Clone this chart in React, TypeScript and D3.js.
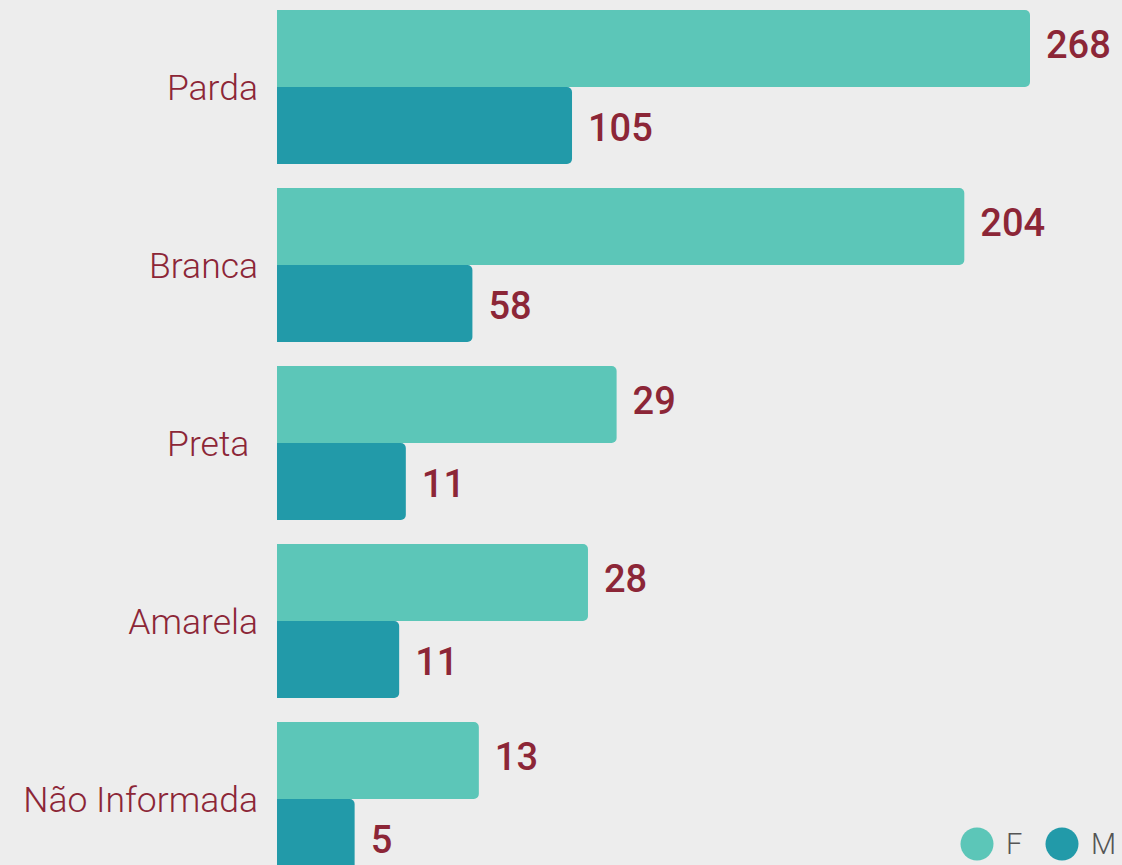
import React from "react";
import * as d3 from "d3";

const categories = ["Parda", "Branca", "Preta ", "Amarela", "Não Informada"];
const valuesF = [268, 204, 29, 28, 13];
const valuesM = [105, 58, 11, 11, 5];
// each group in the original is drawn on its own axis; axis maximum per group
const groupAxisMax = [268, 223.5, 64.3, 67.8, 48.5];
const seriesKeys = ["F", "M"];
const seriesColors = ["#5cc6b8", "#229aa9"];

const W = 1122;
const H = 865;
const X0 = 277;
const BAR_RANGE = 753;
const LABEL_COLOR = "#8c2637";

function barPath(x0: number, x1: number, y0: number, y1: number, r: number) {
  const p = d3.path();
  const rr = Math.min(r, (x1 - x0) / 2, (y1 - y0) / 2);
  p.moveTo(x0, y0);
  p.lineTo(x1 - rr, y0);
  p.arcTo(x1, y0, x1, y0 + rr, rr);
  p.lineTo(x1, y1 - rr);
  p.arcTo(x1, y1, x1 - rr, y1, rr);
  p.lineTo(x0, y1);
  p.closePath();
  return p.toString();
}

export default function App() {
  const y = d3
    .scaleBand<string>()
    .domain(categories)
    .range([10, 876])
    .paddingInner(24 / 178)
    .paddingOuter(0);
  const ySub = d3
    .scaleBand<string>()
    .domain(seriesKeys)
    .range([0, y.bandwidth()])
    .padding(0);

  return (
    <svg
      width={W}
      height={H}
      style={{ position: "absolute", left: 0, top: 0, display: "block" }}
    >
      <rect x={0} y={0} width={W} height={H} fill="#ededed" />
      {categories.map((cat, i) => {
        const x = d3
          .scaleLinear()
          .domain([0, groupAxisMax[i]])
          .range([X0, X0 + BAR_RANGE]);
        const gy = y(cat)!;
        const vals = [valuesF[i], valuesM[i]];
        return (
          <g key={cat}>
            <text
              x={258}
              y={gy + y.bandwidth() / 2}
              dy="0.36em"
              textAnchor="end"
              fontFamily="Roboto, 'Noto Sans', sans-serif"
              fontWeight={300}
              fontSize={35.5}
              fill={LABEL_COLOR}
              style={{ whiteSpace: "pre" }}
            >
              {cat}
            </text>
            {seriesKeys.map((k, j) => {
              const by = gy + ySub(k)!;
              const bh = ySub.bandwidth();
              const xe = x(vals[j]);
              return (
                <g key={k}>
                  <path
                    d={barPath(x(0), xe, by, by + bh, 5)}
                    fill={seriesColors[j]}
                  />
                  <text
                    x={xe + 16}
                    y={by + bh / 2 + (j === 0 ? -4 : 2)}
                    dy="0.36em"
                    fontFamily="Roboto, 'Noto Sans', sans-serif"
                    fontWeight={500}
                    fontSize={38}
                    fill={LABEL_COLOR}
                  >
                    {vals[j]}
                  </text>
                </g>
              );
            })}
          </g>
        );
      })}
      {seriesKeys.map((k, j) => {
        const cx = j === 0 ? 977 : 1062;
        return (
          <g key={"leg" + k}>
            <circle cx={cx} cy={844} r={16.5} fill={seriesColors[j]} />
            <text
              x={cx + 29}
              y={854}
              fontFamily="Roboto, 'Noto Sans', sans-serif"
              fontWeight={300}
              fontSize={29}
              fill="#555555"
            >
              {k}
            </text>
          </g>
        );
      })}
    </svg>
  );
}
